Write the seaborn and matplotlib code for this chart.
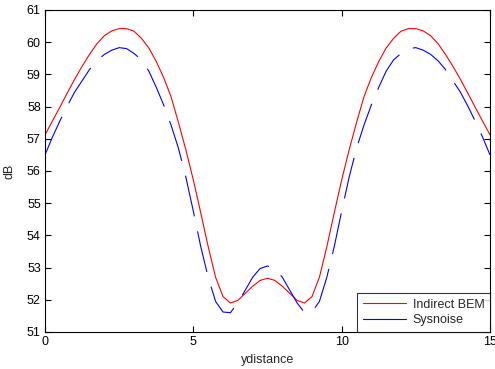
import numpy as np
import pandas as pd
import matplotlib
matplotlib.use("Agg")
import matplotlib.pyplot as plt
import seaborn as sns

# Data (ydistance step 0.25)
ydistance = np.arange(0, 15.01, 0.25)

indirect_bem = [
    57.12, 57.55, 57.98, 58.42, 58.85, 59.25, 59.62, 59.95, 60.20, 60.35,
    60.42, 60.42, 60.34, 60.12, 59.82, 59.40, 58.90, 58.30, 57.50, 56.65,
    55.72, 54.70, 53.65, 52.70, 52.10, 51.90, 51.98, 52.20, 52.42, 52.60,
    52.67,
    52.60, 52.42, 52.20, 51.98, 51.90, 52.10, 52.70, 53.65, 54.70, 55.72,
    56.65, 57.50, 58.30, 58.90, 59.40, 59.82, 60.12, 60.34, 60.42, 60.42,
    60.35, 60.20, 59.95, 59.62, 59.25, 58.85, 58.42, 57.98, 57.55, 57.12,
]

sysnoise = [
    56.50, 57.05, 57.55, 58.02, 58.45, 58.80, 59.15, 59.42, 59.62, 59.75,
    59.83, 59.80, 59.65, 59.45, 59.10, 58.60, 58.05, 57.42, 56.70, 55.80,
    54.75, 53.65, 52.70, 51.95, 51.62, 51.60, 51.90, 52.30, 52.70, 52.97,
    53.05,
    52.97, 52.70, 52.30, 51.90, 51.60, 51.62, 51.95, 52.70, 53.65, 54.75,
    55.80, 56.70, 57.42, 58.05, 58.60, 59.10, 59.45, 59.65, 59.80, 59.83,
    59.75, 59.62, 59.42, 59.15, 58.80, 58.45, 58.02, 57.55, 57.05, 56.50,
]

series_names = ["Indirect BEM", "Sysnoise"]

df = pd.DataFrame({
    "ydistance": np.concatenate([ydistance, ydistance]),
    "dB": indirect_bem + sysnoise,
    "series": [series_names[0]] * len(ydistance) + [series_names[1]] * len(ydistance),
})

sns.set_style("ticks")
plt.rcParams["font.family"] = ["Liberation Sans", "DejaVu Sans"]
plt.rcParams["font.size"] = 9

fig = plt.figure(figsize=(4.95, 3.69), dpi=100)
ax = fig.add_axes([0.0909, 0.1003, 0.899, 0.8727])

lw = 0.8
sns.lineplot(
    data=df, x="ydistance", y="dB",
    hue="series", style="series",
    palette={"Indirect BEM": "#ff0000", "Sysnoise": "#0000ff"},
    dashes={"Indirect BEM": "", "Sysnoise": (30 / lw, 11 / lw)},
    linewidth=lw, legend=False, ax=ax,
)

ax.set_xlim(0, 15)
ax.set_ylim(51, 61)
ax.set_xticks([0, 5, 10, 15])
ax.set_yticks(range(51, 62))
ax.tick_params(direction="in", top=True, right=True, length=4, width=0.8,
               labelsize=9, colors="black", pad=3)
for s in ax.spines.values():
    s.set_color("black")
    s.set_linewidth(0.8)

ax.set_xlabel("ydistance", fontsize=9, labelpad=4)
ax.set_ylabel("dB", fontsize=9, labelpad=8)

# legend: solid sample lines, square black frame at the lower right corner
lines = ax.get_lines()
leg = ax.legend(lines[:2], series_names, loc="lower right", fontsize=9,
                frameon=True, fancybox=False, shadow=False, borderaxespad=0,
                handlelength=3.5, handletextpad=0.5, borderpad=0.45,
                labelspacing=0.3)
leg.get_frame().set_edgecolor("black")
leg.get_frame().set_linewidth(0.8)
for h in leg.get_lines():
    h.set_linestyle("-")

fig.savefig("out.png", dpi=100)
